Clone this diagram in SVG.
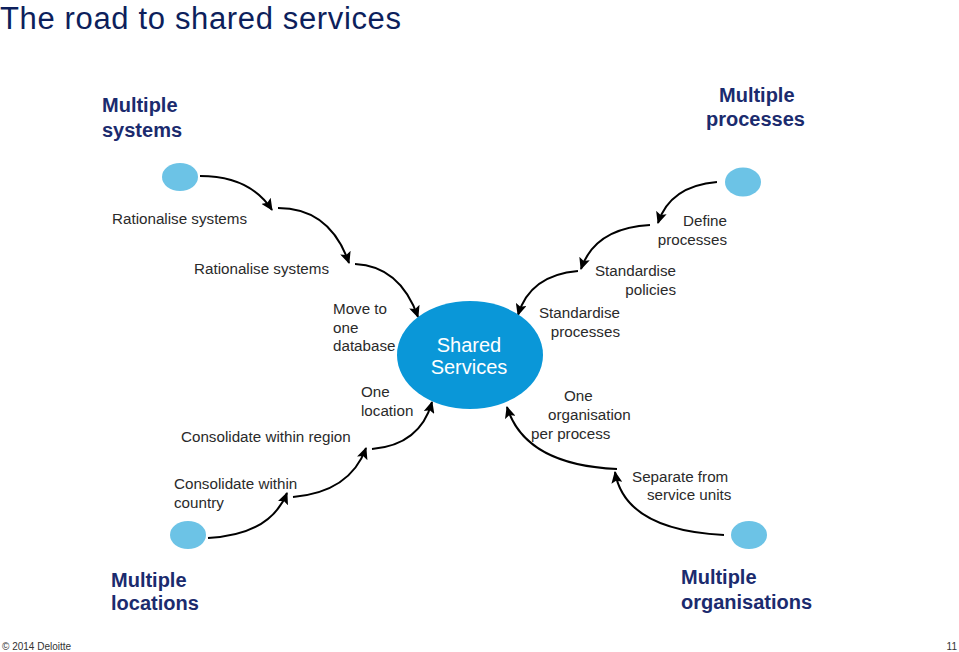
<svg xmlns="http://www.w3.org/2000/svg" width="959" height="652" viewBox="0 0 959 652">
<defs>
<marker id="ah" markerUnits="userSpaceOnUse" markerWidth="12" markerHeight="11" refX="11" refY="5.5" orient="auto">
<path d="M0,0 L12,5.5 L0,11 L2.5,5.5 z" fill="#000"/>
</marker>
<style>
.lbl{font-family:"Liberation Sans",Arial,sans-serif;font-size:15.2px;fill:#2a2a2a}
.hd{font-family:"Liberation Sans",Arial,sans-serif;font-size:20px;font-weight:bold;fill:#1b2b6e}
.dot{fill:#6cc3e6}
.arr{fill:none;stroke:#000;stroke-width:2;marker-end:url(#ah)}
</style>
</defs>
<rect width="959" height="652" fill="#fff"/>
<text x="0" y="28.5" font-family="Liberation Sans, Arial, sans-serif" font-size="31" textLength="401" lengthAdjust="spacing" fill="#0d1f5c">The road to shared services</text>

<g id="connectors">
<path class="arr" d="M200,176 Q250,176 272,210"/>
<path class="arr" d="M278,208 Q330,208 349,263"/>
<path class="arr" d="M355,264 Q400,266 418,317"/>
<path class="arr" d="M717,182 Q670,186 658,223"/>
<path class="arr" d="M650,225 Q595,228 581,269"/>
<path class="arr" d="M578,271 Q530,275 518,315"/>
<path class="arr" d="M208,538 Q270,535 287,493"/>
<path class="arr" d="M293,497 Q350,492 366,448"/>
<path class="arr" d="M372,449 Q420,445 432,402"/>
<path class="arr" d="M724,535 Q625,530 615,472"/>
<path class="arr" d="M617,469 Q525,465 507,407"/>
</g>

<g id="shared-services">
<ellipse cx="470" cy="355" rx="73" ry="54" fill="#0a97d8"/>
<text x="469" y="352" text-anchor="middle" font-family="Liberation Sans, Arial, sans-serif" font-size="20" fill="#fff">Shared</text>
<text x="469" y="374" text-anchor="middle" font-family="Liberation Sans, Arial, sans-serif" font-size="20" fill="#fff">Services</text>
</g>

<g id="multiple-systems">
<text class="hd" x="102" y="112">Multiple</text>
<text class="hd" x="102" y="137">systems</text>
<ellipse class="dot" cx="180" cy="177" rx="18" ry="14"/>
</g>
<g id="multiple-processes">
<text class="hd" x="719" y="102">Multiple</text>
<text class="hd" x="706" y="126">processes</text>
<ellipse class="dot" cx="743" cy="182" rx="18" ry="14.5"/>
</g>
<g id="multiple-locations">
<text class="hd" x="111" y="587">Multiple</text>
<text class="hd" x="111" y="610">locations</text>
<ellipse class="dot" cx="188" cy="535" rx="18" ry="14"/>
</g>
<g id="multiple-organisations">
<text class="hd" x="681" y="584">Multiple</text>
<text class="hd" x="681" y="609">organisations</text>
<ellipse class="dot" cx="749" cy="535" rx="18" ry="14"/>
</g>

<g id="labels">
<text class="lbl" x="112" y="224">Rationalise systems</text>
<text class="lbl" x="194" y="274">Rationalise systems</text>
<text class="lbl" x="333" y="314">Move to</text>
<text class="lbl" x="333" y="333">one</text>
<text class="lbl" x="333" y="351">database</text>
<text class="lbl" x="727" y="226" text-anchor="end">Define</text>
<text class="lbl" x="727" y="245" text-anchor="end">processes</text>
<text class="lbl" x="676" y="276" text-anchor="end">Standardise</text>
<text class="lbl" x="676" y="295" text-anchor="end">policies</text>
<text class="lbl" x="620" y="318" text-anchor="end">Standardise</text>
<text class="lbl" x="620" y="337" text-anchor="end">processes</text>
<text class="lbl" x="361" y="397">One</text>
<text class="lbl" x="361" y="416">location</text>
<text class="lbl" x="181" y="442">Consolidate within region</text>
<text class="lbl" x="174" y="489">Consolidate within</text>
<text class="lbl" x="174" y="508">country</text>
<text class="lbl" x="564" y="401">One</text>
<text class="lbl" x="548" y="420">organisation</text>
<text class="lbl" x="531" y="439">per process</text>
<text class="lbl" x="632" y="482">Separate from</text>
<text class="lbl" x="647" y="500">service units</text>
</g>

<text x="2" y="650" font-family="Liberation Sans, Arial, sans-serif" font-size="10" fill="#333">© 2014 Deloitte</text>
<text x="957" y="650" text-anchor="end" font-family="Liberation Sans, Arial, sans-serif" font-size="10" fill="#333">11</text>
</svg>
